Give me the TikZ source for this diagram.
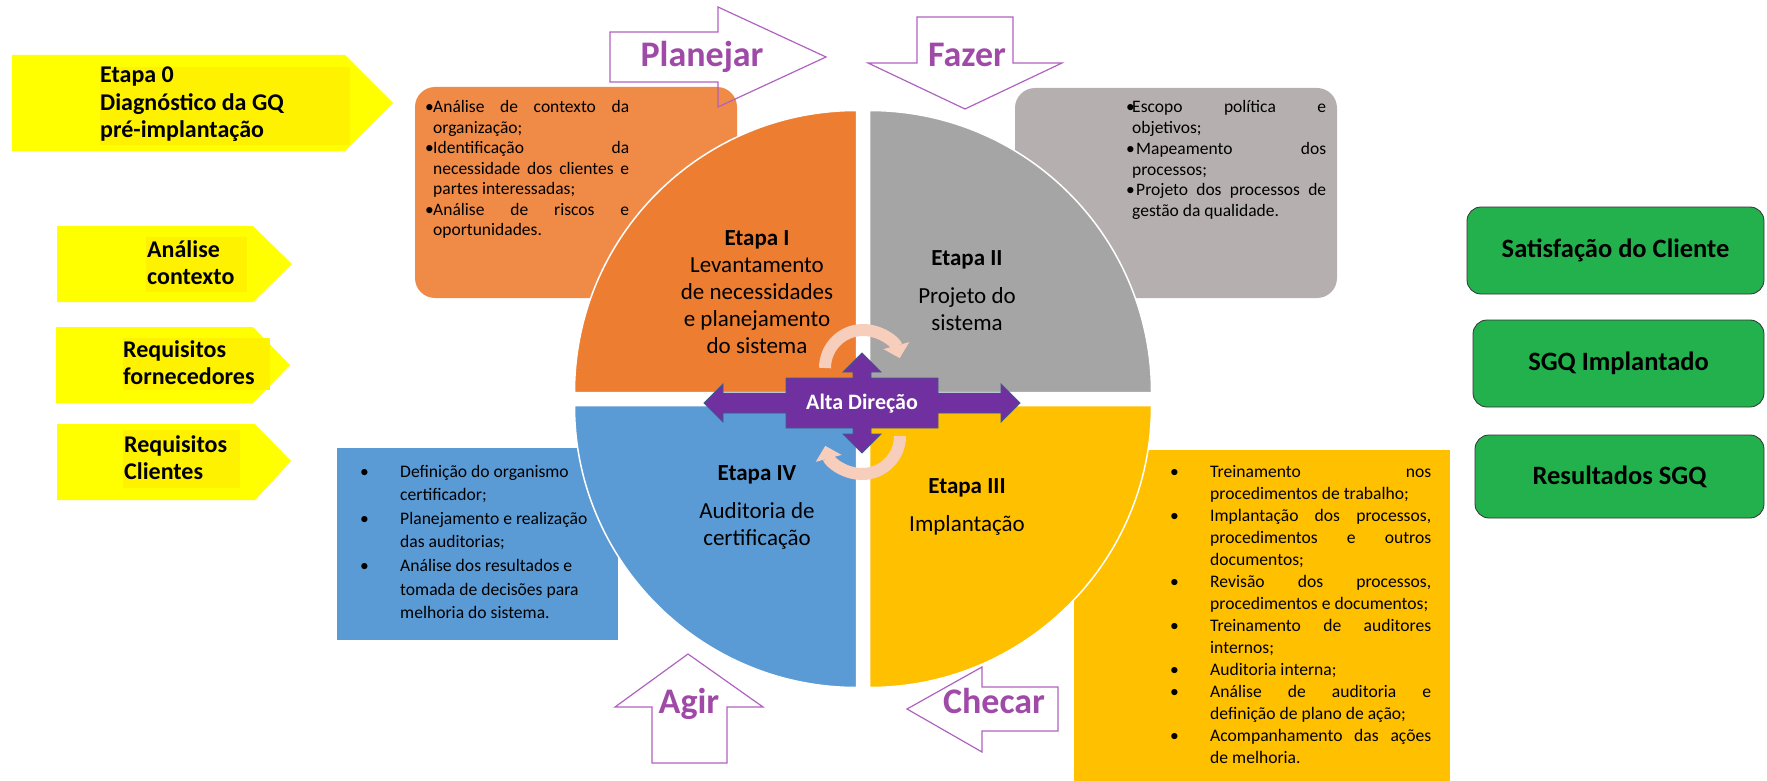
\documentclass[tikz,border=0pt]{standalone}
\usepackage{fontspec}
\setmainfont{Carlito}
\usetikzlibrary{arrows.meta}

\definecolor{stageorange}{HTML}{ED7D31}
\definecolor{boxorange}{HTML}{F08A47}
\definecolor{stagegray}{HTML}{A5A5A5}
\definecolor{boxgray}{HTML}{B5B0AF}
\definecolor{stageyellow}{HTML}{FFC000}
\definecolor{stageblue}{HTML}{5B9BD5}
\definecolor{direction}{HTML}{7030A0}
\definecolor{directionline}{HTML}{3F5A8A}
\definecolor{ringpeach}{HTML}{F7CDBB}
\definecolor{pdcaline}{HTML}{B062C0}
\definecolor{pdcatext}{HTML}{A04AA8}
\definecolor{lemon}{HTML}{FFFF00}
\definecolor{lemontext}{HTML}{FFF200}
\definecolor{sgqgreen}{HTML}{22B14C}

\newcommand{\bitem}[1]{\par\noindent\hangindent=#1\hangafter=1\makebox[#1][l]{\textbullet}}

\begin{document}
\begin{tikzpicture}[x=1pt, y=-1pt,
    quadrant/.style = {draw=white, line width=1.5pt},
    stage/.style = {align=center, inner sep=0pt, font=\fontsize{23}{27}\selectfont},
    listtext/.style = {anchor=base west, inner sep=0pt,
      execute at begin node={\tolerance=10000 \hbadness=10000 \hyphenpenalty=10000}},
    ring/.style = {ringpeach, line width=12pt, -{Triangle[width=26pt, length=13pt]}},
    pdca/.style = {draw=pdcaline, line width=1.2pt},
    pdcalabel/.style = {anchor=base, inner sep=0pt, text=pdcatext, font=\bfseries\fontsize{36}{40}\selectfont},
    input/.style = {fill=lemon},
    inputlabel/.style = {anchor=north west, align=left, inner sep=0pt,
      font=\bfseries\fontsize{24}{27.5}\selectfont},
    result/.style = {rectangle, rounded corners=14pt, draw=black!80, line width=0.8pt,
      fill=sgqgreen, inner sep=0pt, font=\bfseries\fontsize{26.5}{32}\selectfont}]

  \useasboundingbox (0, 0) rectangle (1767, 781);

  % Task boxes behind the circle.
  \fill [boxorange, rounded corners=20pt] (415, 87) rectangle (737, 298);
  \fill [boxgray, rounded corners=20pt] (1015, 88) rectangle (1337, 298);
  \fill [stageblue] (337, 448) rectangle (618, 640);
  \fill [stageyellow] (1074, 450) rectangle (1450, 781);

  % Quadrants.
  \filldraw [quadrant, fill=stageorange] (856.5, 392.5) -- ++(-282, 0)
             arc [start angle=180, end angle=270, radius=282] -- cycle;
  \filldraw [quadrant, fill=stagegray] (869.5, 392.5) -- ++(0, -282)
             arc [start angle=270, end angle=360, radius=282] -- cycle;
  \filldraw [quadrant, fill=stageyellow] (869.5, 405.5) -- ++(282, 0)
             arc [start angle=0, end angle=90, radius=282] -- cycle;
  \filldraw [quadrant, fill=stageblue] (856.5, 405.5) -- ++(0, 282)
             arc [start angle=90, end angle=180, radius=282] -- cycle;

  % Stage texts.
  \node at (757, 292) [stage, name=StageOne]
        {\textbf{Etapa I}\\Levantamento\\de necessidades\\e planejamento\\do sistema};
  \node at (967, 291) [stage, name=StageTwo] {\textbf{Etapa II}\\[11pt]Projeto do\\sistema};
  \node at (967, 507) [stage, name=StageThree] {\textbf{Etapa III}\\[11pt]Implantação};
  \node at (757, 507) [stage, name=StageFour] {\textbf{Etapa IV}\\[11pt]Auditoria de\\certificação};

  % Task lists.
  \node at (425, 113) [listtext, name=PlanTasks]
        {\begin{minipage}[t]{204pt}\fontsize{17.5}{20.5}\selectfont
         \bitem{8pt}Análise de contexto da\linebreak organização;
         \bitem{8pt}Identificação da\linebreak necessidade dos clientes e\linebreak partes interessadas;
         \bitem{8pt}Análise de riscos e\linebreak oportunidades.
         \end{minipage}};
  \node at (1126, 113) [listtext, name=DoTasks]
        {\begin{minipage}[t]{200pt}\fontsize{17.5}{20.7}\selectfont
         \bitem{6pt}Escopo política e\linebreak objetivos;
         \bitem{6pt}\kern4pt Mapeamento dos\linebreak processos;
         \bitem{6pt}\kern4pt Projeto dos processos de\linebreak gestão da qualidade.
         \end{minipage}};
  \node at (360, 477) [listtext, name=ActTasks]
        {\begin{minipage}[t]{245pt}\raggedright\fontsize{17.6}{23.6}\selectfont
         \bitem{40pt}Definição do organismo\newline certificador;
         \bitem{40pt}Planejamento e realização\newline das auditorias;
         \bitem{40pt}Análise dos resultados e\newline tomada de decisões para\newline melhoria do sistema.
         \end{minipage}};
  \node at (1170, 477) [listtext, name=CheckTasks]
        {\begin{minipage}[t]{261pt}\fontsize{17.6}{22}\selectfont
         \bitem{40pt}Treinamento nos\linebreak procedimentos de trabalho;
         \bitem{40pt}Implantação dos processos,\linebreak procedimentos e outros\linebreak documentos;
         \bitem{40pt}Revisão dos processos,\linebreak procedimentos e documentos;
         \bitem{40pt}Treinamento de auditores\linebreak internos;
         \bitem{40pt}Auditoria interna;
         \bitem{40pt}Análise de auditoria e\linebreak definição de plano de ação;
         \bitem{40pt}Acompanhamento das ações\linebreak de melhoria.
         \end{minipage}};

  % Turning arrows round the centre.
  \draw [ring] (825, 368) arc [start angle=180, end angle=345, radius=38];
  \draw [ring] (900, 436) arc [start angle=0, end angle=165, radius=38];

  % Top management cross.
  \filldraw [fill=direction, draw=directionline, line width=0.8pt]
        (704, 403) -- (723, 384) -- (723, 393) -- (786, 393) -- (786, 378)
        -- (853, 378) -- (853, 372) -- (843, 372) -- (862, 353) -- (881, 372)
        -- (871, 372) -- (871, 378) -- (938, 378) -- (938, 393) -- (1001, 393)
        -- (1001, 384) -- (1020, 403) -- (1001, 422) -- (1001, 413) -- (938, 413)
        -- (938, 428) -- (871, 428) -- (871, 434) -- (881, 434) -- (862, 453)
        -- (843, 434) -- (853, 434) -- (853, 428) -- (786, 428) -- (786, 413)
        -- (723, 413) -- (723, 422) -- cycle;
  \node at (862, 404) [text=white, inner sep=0pt, font=\bfseries\fontsize{22}{24}\selectfont,
        name=TopManagement] {Alta Direção};

  % PDCA arrows.
  \draw [pdca] (610, 32) -- (718, 32) -- (718, 7) -- (826, 57) -- (718, 107)
               -- (718, 82) -- (610, 82) -- cycle;
  \node at (702, 67) [pdcalabel, name=Plan] {Planejar};
  \draw [pdca] (917, 17) -- (1013, 17) -- (1013, 63) -- (1062, 63) -- (965, 109)
               -- (868, 63) -- (917, 63) -- cycle;
  \node at (967, 67) [pdcalabel, name=Do] {Fazer};
  \draw [pdca] (1058, 687) -- (982, 687) -- (982, 667) -- (907, 709) -- (982, 752)
               -- (982, 731) -- (1058, 731) -- cycle;
  \node at (994, 713) [pdcalabel, name=Check] {Checar};
  \draw [pdca] (652, 763) -- (652, 707) -- (615, 707) -- (688, 654) -- (763, 707)
               -- (727, 707) -- (727, 763) -- cycle;
  \node at (689, 713) [pdcalabel, name=Act] {Agir};

  % Inputs.
  \fill [input] (12, 55) -- (345, 55) -- (393, 103) -- (345, 151) -- (12, 151) -- cycle;
  \fill [lemontext] (100, 67) rectangle (350, 145);
  \node at (100, 67) [inputlabel, name=StageZero] {Etapa 0\\Diagnóstico da GQ\\pré-implantação};
  \fill [input] (57, 226) -- (253, 226) -- (292, 264) -- (253, 302) -- (57, 302) -- cycle;
  \fill [lemontext] (146, 237) rectangle (247, 292);
  \node at (147, 240) [inputlabel, name=Context] {Análise\\contexto};
  \fill [input] (56, 327) -- (253, 327) -- (290, 365) -- (253, 403) -- (56, 403) -- cycle;
  \fill [lemontext] (123, 338) rectangle (270, 390);
  \node at (123, 340) [inputlabel, name=Suppliers] {Requisitos\\fornecedores};
  \fill [input] (57, 424) -- (255, 424) -- (291, 461) -- (255, 500) -- (57, 500) -- cycle;
  \fill [lemontext] (123, 430) rectangle (240, 488);
  \node at (124, 435) [inputlabel, name=Clients] {Requisitos\\Clientes};

  % Results.
  \node at (1615.5, 250.5) [result, minimum width=297pt, minimum height=87pt,
        name=Satisfaction] {Satisfação do Cliente};
  \node at (1618.5, 363.5) [result, minimum width=291pt, minimum height=87pt,
        name=Implemented] {SGQ Implantado};
  \node at (1619.5, 476.5) [result, minimum width=289pt, minimum height=83pt,
        name=Results] {Resultados SGQ};
\end{tikzpicture}
\end{document}
